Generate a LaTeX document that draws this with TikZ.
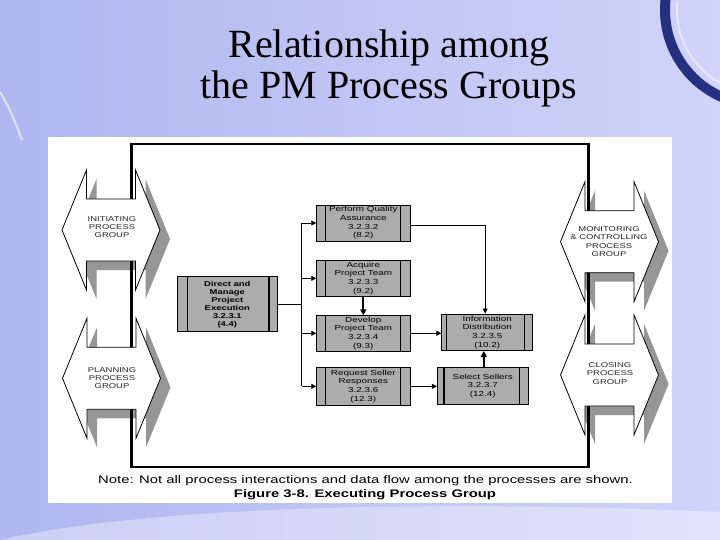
\documentclass[tikz,border=0pt]{standalone}
\usepackage{fontspec}
\setmainfont{Liberation Serif}
\newfontfamily\figfont[FakeStretch=1.35]{Liberation Sans}
\usetikzlibrary{arrows.meta}
\definecolor{bgL}{RGB}{176,182,240}
\definecolor{bgR}{RGB}{208,212,249}
\definecolor{boxgray}{RGB}{172,172,172}
\definecolor{shadowgray}{RGB}{150,150,150}
\definecolor{navy}{RGB}{38,48,128}
\begin{document}
\begin{tikzpicture}[x=1pt,y=-1pt,
  pbox/.style={draw=black, line width=0.8pt, fill=boxgray, inner sep=0pt, align=center,
    font=\figfont\fontsize{7.3}{8.6}\selectfont},
  grptext/.style={align=center, inner sep=0pt, text=black!85,
    font=\figfont\fontsize{7}{8.4}\selectfont},
  arr/.style={line width=0.8pt, -{Triangle[length=5pt,width=5pt]}},
  strip/.style={line width=0.7pt},
  thickstrip/.style={line width=2pt},
  grp/.pic={\path[pic actions] (-24.5,-60) -- (-24.5,-31) -- (24.5,-31) -- (24.5,-60)
      -- (49,0) -- (24.5,60) -- (24.5,31) -- (-24.5,31) -- (-24.5,60) -- (-49,0) -- cycle;}
]
\useasboundingbox (0,0) rectangle (720,540);
% background
\fill[left color=bgL, right color=bgR] (0,0) rectangle (720,540);
\fill[white, opacity=0.35] (0,540) .. controls (150,505) and (450,500) .. (720,512) -- (720,540) -- cycle;
\draw[white, line width=2pt, opacity=0.6] (0,92) .. controls (10,108) and (16,124) .. (22,140);
\draw[navy, line width=10pt] (760,10) ++(188:95) arc[start angle=188, end angle=110, radius=95];
\draw[white, line width=2pt, opacity=0.5] (760,10) ++(186:83) arc[start angle=186, end angle=115, radius=83];
% title
\node[anchor=base, font=\fontsize{40}{41}\selectfont, inner sep=0pt] (t1) at (389,58) {Relationship among};
\node[anchor=base, font=\fontsize{40}{41}\selectfont, inner sep=0pt] (t2) at (389,99) {the PM Process Groups};
% panel
\fill[white] (48,137) rectangle (672,503);
% shadows of process groups
\pic[fill=shadowgray] at (121,239) {grp};
\pic[fill=shadowgray] at (121.5,387.3) {grp};
\pic[fill=shadowgray] at (619.5,250.7) {grp};
\pic[fill=shadowgray] at (619.5,384) {grp};
% frame
\draw[line width=2.4pt] (131.5,144) rectangle (588.5,467);
% process groups
\pic[fill=white, draw=black, line width=0.8pt] at (111,230) {grp};
\pic[fill=white, draw=black, line width=0.8pt] at (111.5,378.3) {grp};
\pic[fill=white, draw=black, line width=0.8pt] at (609.5,241.7) {grp};
\pic[fill=white, draw=black, line width=0.8pt] at (609.5,375) {grp};
\node[grptext] (ini) at (112,227) {INITIATING\\PROCESS\\GROUP};
\node[grptext] (pla) at (112,378) {PLANNING\\PROCESS\\GROUP};
\node[grptext] (mon) at (609,241.5) {MONITORING\\\& CONTROLLING\\PROCESS\\GROUP};
\node[grptext] (clo) at (610,373.5) {CLOSING\\PROCESS\\GROUP};
% process boxes
\node[pbox, minimum width=100pt, minimum height=55pt, font=\figfont\bfseries\fontsize{7}{8}\selectfont]
  (dm) at (227.3,304.2) {Direct and\\Manage\\Project\\Execution\\3.2.3.1\\(4.4)};
\node[pbox, minimum width=93.3pt, minimum height=36pt] (qa) at (363.3,223) {Perform Quality\\Assurance\\3.2.3.2\\(8.2)};
\node[pbox, minimum width=93.3pt, minimum height=36.7pt] (aq) at (363.3,278.3) {Acquire\\Project Team\\3.2.3.3\\(9.2)};
\node[pbox, minimum width=93.3pt, minimum height=35.3pt] (dv) at (363.3,333.3) {Develop\\Project Team\\3.2.3.4\\(9.3)};
\node[pbox, minimum width=93.3pt, minimum height=37.3pt] (rs) at (363.3,386.3) {Request Seller\\Responses\\3.2.3.6\\(12.3)};
\node[pbox, minimum width=91pt, minimum height=36.7pt] (id) at (487.2,332.3) {Information\\Distribution\\3.2.3.5\\(10.2)};
\node[pbox, minimum width=91pt, minimum height=36.7pt] (ss) at (482.8,386) {Select Sellers\\3.2.3.7\\(12.4)};
% strips
\draw[strip] ([xshift=10pt]dm.north west) -- ([xshift=10pt]dm.south west);
\draw[thickstrip] ([xshift=-9pt]dm.north east) -- ([xshift=-9pt]dm.south east);
\foreach \b in {qa,aq,dv,rs}{
  \draw[strip] ([xshift=9.3pt]\b.north west) -- ([xshift=9.3pt]\b.south west);
  \draw[strip] ([xshift=-10pt]\b.north east) -- ([xshift=-10pt]\b.south east);
}
\draw[strip] ([xshift=5.3pt]id.north west) -- ([xshift=5.3pt]id.south west);
\draw[strip] ([xshift=-8.7pt]id.north east) -- ([xshift=-8.7pt]id.south east);
\draw[thickstrip] ([xshift=6.7pt]ss.north west) -- ([xshift=6.7pt]ss.south west);
\draw[strip] ([xshift=-9pt]ss.north east) -- ([xshift=-9pt]ss.south east);
% connectors
\coordinate (bus) at (301.7,304.2);
\draw[line width=0.8pt] (dm.east) -- (bus);
\draw[line width=0.8pt] (bus |- qa.west) -- (bus |- rs.west);
\foreach \b in {qa,aq,dv,rs}{
  \draw[arr] (bus |- \b.west) -- (\b.west);
}
\draw[arr] ([yshift=-2pt]qa.east) -| ([xshift=-2pt]id.north);
\draw[arr] (dv.east) -- (dv.east -| id.west);
\draw[arr] (rs.east) -- (rs.east -| ss.west);
\draw[line width=1.8pt, -{Triangle[length=6pt,width=6pt]}] (aq.south) -- (dv.north);
\draw[line width=1.8pt, -{Triangle[length=6pt,width=6pt]}] ([xshift=1pt]ss.north) -- ([xshift=1pt]ss.north |- id.south);
% note and caption
\node[font=\figfont\fontsize{11}{13}\selectfont, inner sep=0pt] (note) at (365.5,481) {Note: Not all process interactions and data flow among the processes are shown.};
\node[font=\figfont\bfseries\fontsize{11}{13}\selectfont, inner sep=0pt] (cap) at (365,495) {Figure 3-8. Executing Process Group};
\end{tikzpicture}
\end{document}
